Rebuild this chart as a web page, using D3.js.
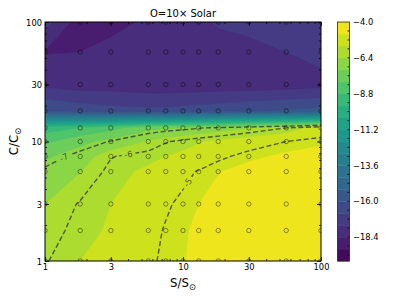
<!DOCTYPE html>
<html><head><meta charset="utf-8">
<script src="https://cdn.jsdelivr.net/npm/d3@7"></script>
<style>
body{margin:0;background:#fff}
text{font-family:"DejaVu Sans",sans-serif}
</style>
</head><body>
<svg id="chart" width="399" height="299"></svg>
<script>
// ---------------- data ----------------
const sGrid = [1, 1.8, 3, 5.6, 7.5, 10, 13, 18, 30, 56, 100];   // S/S_sun model grid
const cGrid = [1, 1.8, 3, 5.6, 7.5, 10, 13, 18, 30, 56, 100];   // C/C_sun model grid
// log abundance, one row per C value (bottom C=1 to top C=100), columns follow sGrid
const zC1   = [-6.05, -5.6, -5.35, -5.05, -4.95, -4.82, -4.7, -4.55, -4.4, -4.3, -4.2];
const zC1_8 = [-6.2, -5.85, -5.5, -5.12, -4.97, -4.85, -4.72, -4.55, -4.4, -4.3, -4.2];
const zC3   = [-6.4, -5.95, -5.6, -5.2, -5.05, -4.92, -4.8, -4.62, -4.45, -4.3, -4.2];
const zC5_6 = [-6.85, -6.42, -5.85, -5.45, -5.25, -5.1, -4.97, -4.82, -4.65, -4.5, -4.4];
const zC7_5 = [-7.35, -6.75, -6.03, -5.8, -5.6, -5.45, -5.3, -5.08, -4.88, -4.72, -4.6];
const zC10  = [-8.2, -7.45, -6.95, -6.35, -6.05, -5.85, -5.65, -5.45, -5.2, -5.0, -4.88];
const zC13  = [-9.2, -8.8, -8.3, -7.45, -7.3, -7.2, -7.05, -6.85, -6.45, -6.0, -5.29];
const zC18  = [-16.0, -16.3, -16.5, -16.6, -16.6, -16.5, -16.4, -16.3, -16.1, -15.9, -15.7];
const zC30  = [-17.8, -18.0, -18.0, -18.1, -18.1, -18.1, -18.1, -18.1, -18.1, -18.0, -17.9];
const zC56  = [-18.45, -18.4, -18.2, -18.0, -18.0, -18.0, -18.0, -18.0, -17.9, -17.6, -17.3];
const zC100 = [-17.3, -18.8, -18.6, -18.3, -18.0, -17.9, -17.8, -17.5, -17.3, -17.2, -17.2];
const zRows = [zC1, zC1_8, zC3, zC5_6, zC7_5, zC10, zC13, zC18, zC30, zC56, zC100];

const levelMin = -20, levelMax = -4, levelStep = 0.8;     // filled contour levels
const lineLevels = [-7, -6, -5];                          // dashed labelled contours
const labelSpots = [                                      // approximate label places (S, C)
  {level: -7, s: 1.33, c: 7.9},
  {level: -6, s: 4.0,  c: 8.2},
  {level: -5, s: 10.6, c: 4.6}
];
const xTicks = [1, 3, 10, 30, 100];
const yTicks = [1, 3, 10, 30, 100];
const cbTicks = [-4.0, -6.4, -8.8, -11.2, -13.6, -16.0, -18.4];
const cbMinorStep = 0.6;
const titleText = "O=10\u00d7 Solar";

// ---------------- layout ----------------
const svg = d3.select("#chart");
const L = 45, R = 321, T = 22, B = 261;
const x = d3.scaleLog().domain([1, 100]).range([L, R]);
const y = d3.scaleLog().domain([1, 100]).range([B, T]);
const cb = d3.scaleLinear().domain([levelMin, levelMax]).range([B, T]);
const cbX0 = 337.5, cbW = 12;

const nx = sGrid.length, ny = cGrid.length;
const flat = [];
zRows.forEach(row => row.forEach(v => flat.push(v)));

const xPix = sGrid.map(x), yPix = cGrid.map(y);
function interpIdx(arr, t) {
  t = Math.max(0, Math.min(arr.length - 1, t));
  const i0 = Math.min(Math.floor(t), arr.length - 2);
  const f = t - i0;
  return arr[i0] + (arr[i0 + 1] - arr[i0]) * f;
}
function toPix(p) { return [interpIdx(xPix, p[0] - 0.5), interpIdx(yPix, p[1] - 0.5)]; }

svg.append("defs").append("clipPath").attr("id", "plotclip")
  .append("rect").attr("x", L).attr("y", T).attr("width", R - L).attr("height", B - T);

const nBands = Math.round((levelMax - levelMin) / levelStep);
const bandColor = k => d3.interpolateViridis((k + 0.5) / nBands);
const thresholds = d3.range(nBands).map(k => levelMin + k * levelStep);

// filled contours
const gFill = svg.append("g").attr("clip-path", "url(#plotclip)");
const fills = d3.contours().size([nx, ny]).thresholds(thresholds)(flat);
fills.forEach((c, k) => {
  let d = "";
  c.coordinates.forEach(poly => poly.forEach(ring => {
    d += "M" + ring.map(p => toPix(p).map(v => v.toFixed(2)).join(",")).join("L") + "Z";
  }));
  gFill.append("path").attr("d", d).attr("fill", bandColor(k))
    .attr("stroke", bandColor(k)).attr("stroke-width", 0.3).attr("fill-rule", "evenodd");
});

// dashed contour lines
function isEdge(p) {
  return p[0] <= 0.5 + 1e-9 || p[0] >= nx - 0.5 - 1e-9 || p[1] <= 0.5 + 1e-9 || p[1] >= ny - 0.5 - 1e-9;
}
const lineSets = d3.contours().size([nx, ny]).thresholds(lineLevels)(flat);
const runsByLevel = {};
lineSets.forEach(c => {
  const runs = [];
  c.coordinates.forEach(poly => poly.forEach(ring => {
    const ringRuns = [];
    let cur = null;
    for (let k = 0; k < ring.length - 1; k++) {
      const a = ring[k], b = ring[k + 1];
      if (isEdge(a) && isEdge(b)) { if (cur) { ringRuns.push(cur); cur = null; } continue; }
      if (!cur) cur = [toPix(a)];
      cur.push(toPix(b));
    }
    if (cur) ringRuns.push(cur);
    if (ringRuns.length > 1) {
      const first = ringRuns[0], last = ringRuns[ringRuns.length - 1];
      const a0 = first[0], lb = last[last.length - 1];
      if (Math.abs(a0[0] - lb[0]) < 1e-6 && Math.abs(a0[1] - lb[1]) < 1e-6) {
        ringRuns[0] = last.concat(first.slice(1));
        ringRuns.pop();
      }
    }
    ringRuns.forEach(r => runs.push(r));
  }));
  runsByLevel[c.value] = runs;
});

// label placement (nearest point of the level's line)
const labels = labelSpots.map(sp => {
  const tx = x(sp.s), ty = y(sp.c);
  let best = null;
  (runsByLevel[sp.level] || []).forEach(run => {
    for (let k = 0; k < run.length - 1; k++) {
      const [ax, ay] = run[k], [bx, by] = run[k + 1];
      const dx = bx - ax, dy = by - ay, len2 = dx * dx + dy * dy || 1;
      let t = ((tx - ax) * dx + (ty - ay) * dy) / len2;
      t = Math.max(0, Math.min(1, t));
      const px = ax + t * dx, py = ay + t * dy;
      const dd = (px - tx) ** 2 + (py - ty) ** 2;
      if (!best || dd < best.dd) {
        let ang = Math.atan2(dy, dx) * 180 / Math.PI;
        if (ang > 90) ang -= 180;
        if (ang <= -90) ang += 180;
        best = {dd, px, py, ang};
      }
    }
  });
  return {level: sp.level, x: best ? best.px : tx, y: best ? best.py : ty, ang: best ? best.ang : 0};
});

const mask = svg.select("defs").append("mask").attr("id", "lblmask");
mask.append("rect").attr("x", 0).attr("y", 0).attr("width", 399).attr("height", 299).attr("fill", "#fff");
labels.forEach(l => {
  mask.append("rect").attr("x", -7).attr("y", -5).attr("width", 14).attr("height", 10)
    .attr("transform", `translate(${l.x},${l.y}) rotate(${l.ang})`).attr("fill", "#000");
});

const gLines = svg.append("g").attr("clip-path", "url(#plotclip)");
const gLinesInner = gLines.append("g").attr("mask", "url(#lblmask)");
const lineGen = d3.line();
Object.values(runsByLevel).forEach(runs => runs.forEach(run => {
  gLinesInner.append("path").attr("d", lineGen(run)).attr("fill", "none")
    .attr("stroke", "#333").attr("stroke-opacity", 0.78).attr("stroke-width", 1.4)
    .attr("stroke-dasharray", "5,2.6");
}));
labels.forEach(l => {
  svg.append("text").attr("transform", `translate(${l.x},${l.y}) rotate(${l.ang})`)
    .attr("text-anchor", "middle").attr("dy", "0.36em")
    .attr("font-size", 8.5).attr("fill", "#333").attr("fill-opacity", 0.8)
    .text(String(l.level));
});

// grid markers
const gPts = svg.append("g").attr("clip-path", "url(#plotclip)");
cGrid.forEach(cv => sGrid.forEach(sv => {
  gPts.append("circle").attr("cx", x(sv)).attr("cy", y(cv)).attr("r", 2.2)
    .attr("fill", "none").attr("stroke", "#000").attr("stroke-opacity", 0.5).attr("stroke-width", 0.85);
}));

// axes (ticks inward on all sides)
const minorVals = [];
[1, 10].forEach(dec => d3.range(2, 10).forEach(m => minorVals.push(dec * m)));
const fmt = d => String(d);
const fs = 8.33;
function styleAxis(g) {
  g.select(".domain").remove();
  g.selectAll("line").attr("stroke", "#000").attr("stroke-width", 0.8);
  g.selectAll("text").attr("font-size", fs).attr("font-family", "DejaVu Sans").attr("fill", "#000");
}
svg.append("g").attr("transform", `translate(0,${B})`)
  .call(d3.axisBottom(x).tickValues(xTicks).tickFormat(fmt).tickSizeInner(-4).tickSizeOuter(0).tickPadding(2.6))
  .call(styleAxis);
svg.append("g").attr("transform", `translate(0,${B})`)
  .call(d3.axisBottom(x).tickValues(minorVals).tickFormat("").tickSizeInner(-2).tickSizeOuter(0)).call(styleAxis);
svg.append("g").attr("transform", `translate(0,${T})`)
  .call(d3.axisTop(x).tickValues(xTicks).tickFormat("").tickSizeInner(-4).tickSizeOuter(0)).call(styleAxis);
svg.append("g").attr("transform", `translate(0,${T})`)
  .call(d3.axisTop(x).tickValues(minorVals).tickFormat("").tickSizeInner(-2).tickSizeOuter(0)).call(styleAxis);
const yl = svg.append("g").attr("transform", `translate(${L},0)`)
  .call(d3.axisLeft(y).tickValues(yTicks).tickFormat(fmt).tickSizeInner(-4).tickSizeOuter(0).tickPadding(3))
  .call(styleAxis);
yl.selectAll("text").attr("dy", "0.37em");
svg.append("g").attr("transform", `translate(${L},0)`)
  .call(d3.axisLeft(y).tickValues(minorVals).tickFormat("").tickSizeInner(-2).tickSizeOuter(0)).call(styleAxis);
svg.append("g").attr("transform", `translate(${R},0)`)
  .call(d3.axisRight(y).tickValues(yTicks).tickFormat("").tickSizeInner(-4).tickSizeOuter(0)).call(styleAxis);
svg.append("g").attr("transform", `translate(${R},0)`)
  .call(d3.axisRight(y).tickValues(minorVals).tickFormat("").tickSizeInner(-2).tickSizeOuter(0)).call(styleAxis);

svg.append("rect").attr("x", L).attr("y", T).attr("width", R - L).attr("height", B - T)
  .attr("fill", "none").attr("stroke", "#000").attr("stroke-width", 1);

// title and axis labels
svg.append("text").attr("x", (L + R) / 2).attr("y", 17).attr("text-anchor", "middle")
  .attr("font-size", 10).text(titleText);
const xlab = svg.append("text").attr("x", (L + R) / 2).attr("y", 287).attr("text-anchor", "middle")
  .attr("font-size", 11.7);
xlab.append("tspan").text("S/S");
xlab.append("tspan").attr("font-size", 8.5).attr("dy", 2.6).text("\u2299");
const ylab = svg.append("text").attr("transform", `translate(18.3,${(T + B) / 2}) rotate(-90)`)
  .attr("text-anchor", "middle").attr("font-size", 11.7);
ylab.append("tspan").text("C/C");
ylab.append("tspan").attr("font-size", 8.5).attr("dy", 2.6).text("\u2299");

// colorbar
const gcb = svg.append("g");
d3.range(nBands).forEach(k => {
  const lo = levelMin + k * levelStep, hi = lo + levelStep;
  gcb.append("rect").attr("x", cbX0).attr("y", cb(hi)).attr("width", cbW)
    .attr("height", cb(lo) - cb(hi) + 0.4).attr("fill", bandColor(k));
});
const cbMinor = d3.range(Math.round((levelMax - levelMin) / cbMinorStep) + 1)
  .map(k => levelMax - k * cbMinorStep).filter(v => v > levelMin + 1e-6 && v < levelMax - 1e-6);
cbMinor.forEach(v => {
  gcb.append("line").attr("x1", cbX0 + cbW - 2).attr("x2", cbX0 + cbW)
    .attr("y1", cb(v)).attr("y2", cb(v)).attr("stroke", "#000").attr("stroke-width", 0.8);
});
gcb.append("rect").attr("x", cbX0).attr("y", T).attr("width", cbW).attr("height", B - T)
  .attr("fill", "none").attr("stroke", "#222").attr("stroke-width", 0.8);
cbTicks.forEach(v => {
  gcb.append("text").attr("x", cbX0 + cbW + 3.5).attr("y", cb(v) + 3.1)
    .attr("font-size", fs).text(v.toFixed(1).replace("-", "\u2212"));
});
</script>
</body></html>
